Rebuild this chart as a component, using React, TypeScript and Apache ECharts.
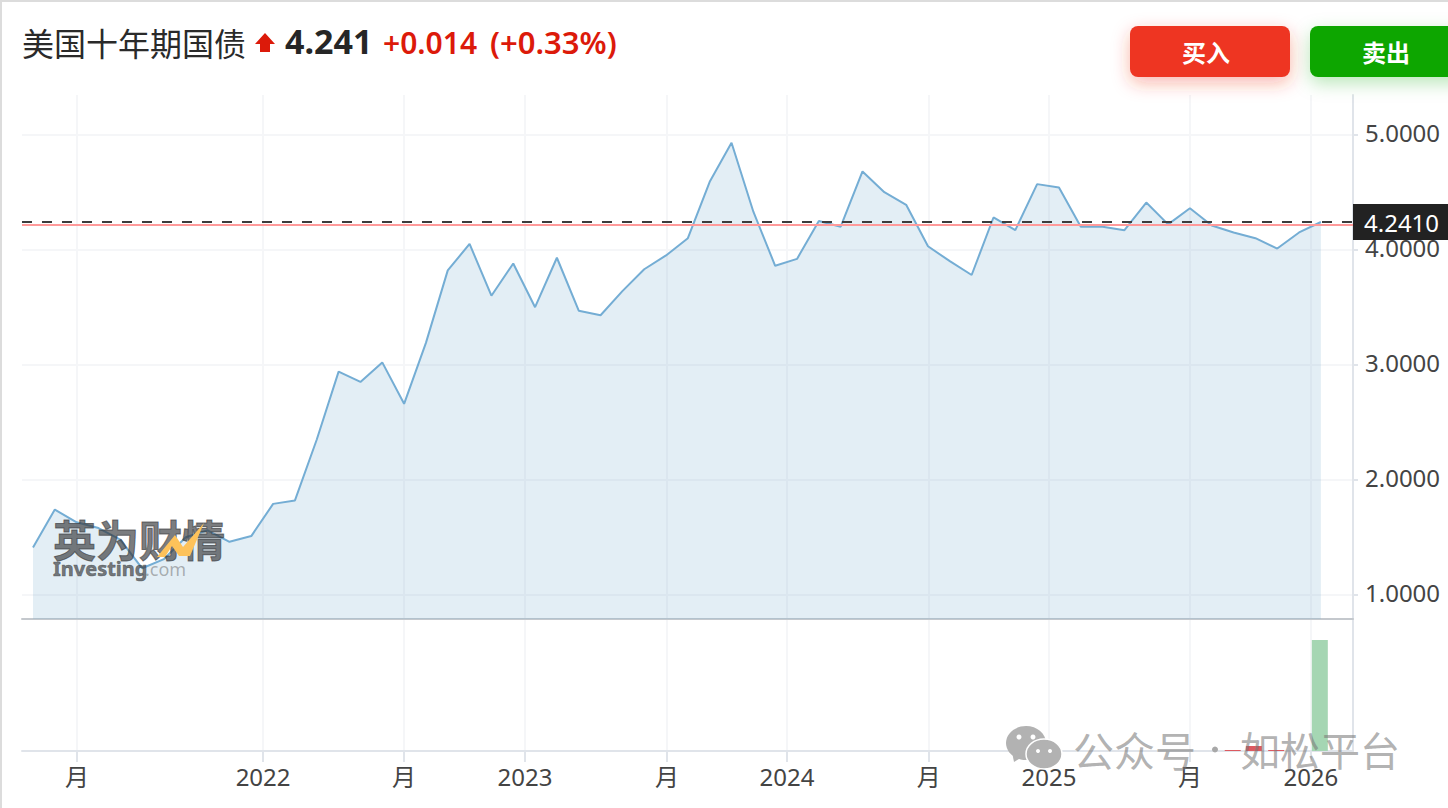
import React, { useEffect, useRef } from "react";
import * as echarts from "echarts";

const yields = [
  1.41, 1.74, 1.63, 1.58, 1.48, 1.23, 1.31, 1.5, 1.56, 1.46, 1.51, 1.79, 1.82, 2.35, 2.94, 2.85, 3.02, 2.66, 3.19, 3.82,
  4.05, 3.6, 3.88, 3.5, 3.93, 3.47, 3.43, 3.64, 3.83, 3.95, 4.1, 4.59, 4.93, 4.33, 3.86, 3.92, 4.25, 4.2, 4.68, 4.5,
  4.39, 4.03, 3.9, 3.78, 4.28, 4.17, 4.57, 4.54, 4.2, 4.2, 4.17, 4.41, 4.22, 4.36, 4.21, 4.15, 4.1, 4.01, 4.15, 4.241,
];
const volumeIndex = [54.96, 55.93, 56.95, 58.95];
const volumeValues = [1, 5, 1, 111];
const volumeUp = [false, false, false, true];
const xTickValues = [2.02, 10.54, 17.0, 22.54, 29.04, 34.54, 41.04, 46.54, 53.0, 58.54];
const xTickLabels = ["月", "2022", "月", "2023", "月", "2024", "月", "2025", "月", "2026"];
const yTickValues = [1, 2, 3, 4, 5];
const lastPrice = 4.241;
const lastPriceLine = 4.236;
const prevClose = 4.225;

const FONT = '"Noto Sans", "Noto Sans CJK SC", sans-serif';
const CJK = '"Noto Sans CJK SC", sans-serif';
const X_MIN = -0.504;
const X_MAX = 60.47;
const GRID_LINE = "#f5f6f8";
const AXIS_LINE = "#e0e4ea";

function label(v: number) {
  const i = xTickValues.indexOf(v);
  return i >= 0 ? xTickLabels[i] : "";
}

function text(x: number, y: number, t: string, size: number, fill: string, weight: any = 400, family = FONT, align = "left", z = 50, extra: any = {}) {
  return {
    type: "text",
    z,
    silent: true,
    style: { x, y, text: t, fill, font: `${weight} ${size}px ${family}`, textAlign: align, textVerticalAlign: "middle", ...extra },
  };
}

export default function App() {
  const ref = useRef<HTMLDivElement>(null);
  useEffect(() => {
    const chart = echarts.init(ref.current!, undefined, { renderer: "svg" });
    const wmGray = "rgba(55,57,60,0.66)";
    const wmLight = "rgba(120,120,120,0.58)";
    chart.setOption({
      animation: false,
      backgroundColor: "#ffffff",
      grid: [
        { left: 22, width: 1331, top: 95, height: 524 },
        { left: 22, width: 1331, top: 619, height: 132 },
      ],
      xAxis: [
        {
          type: "value",
          gridIndex: 0,
          min: X_MIN,
          max: X_MAX,
          axisLine: { show: true, onZero: false, lineStyle: { color: "#c4c8cd", width: 2 } },
          axisTick: { show: false, customValues: xTickValues },
          axisLabel: { show: false, customValues: xTickValues },
          splitLine: { show: true, lineStyle: { color: GRID_LINE, width: 2 } },
        },
        {
          type: "value",
          gridIndex: 1,
          min: X_MIN,
          max: X_MAX,
          axisLine: { show: true, onZero: false, lineStyle: { color: AXIS_LINE, width: 2 } },
          axisTick: { show: true, length: 11, customValues: xTickValues, lineStyle: { color: AXIS_LINE, width: 2 } },
          axisLabel: {
            show: true,
            customValues: xTickValues,
            formatter: (v: number) => label(v),
            color: "#444444",
            fontSize: 24,
            fontFamily: FONT,
            margin: 13,
          },
          splitLine: { show: true, lineStyle: { color: GRID_LINE, width: 2 } },
        },
      ],
      yAxis: [
        {
          type: "value",
          gridIndex: 0,
          position: "right",
          min: 0.789,
          max: 5.345,
          axisLine: { show: true, onZero: false, lineStyle: { color: AXIS_LINE, width: 2 } },
          axisTick: { show: true, length: 5, customValues: yTickValues, lineStyle: { color: AXIS_LINE, width: 2 } },
          axisLabel: {
            show: true,
            customValues: yTickValues,
            formatter: (v: number) => `{a|${v.toFixed(4)}}`,
            margin: 12,
            rich: {
              a: { color: "#444444", fontSize: 24, fontFamily: FONT, padding: [0, 0, 4, 0] },
            },
          },
          splitLine: { show: true, lineStyle: { color: GRID_LINE, width: 2 } },
        },
        {
          type: "value",
          gridIndex: 1,
          position: "right",
          min: 0,
          max: 132,
          axisLine: { show: true, onZero: false, lineStyle: { color: AXIS_LINE, width: 2 } },
          axisTick: { show: false },
          axisLabel: { show: false },
          splitLine: { show: false },
        },
      ],
      series: [
        {
          type: "line",
          xAxisIndex: 0,
          yAxisIndex: 0,
          data: yields.map((v, i) => [i, v]),
          symbol: "none",
          smooth: false,
          lineStyle: { color: "#74add4", width: 2 },
          areaStyle: { color: "rgba(115,170,205,0.2)", opacity: 1, origin: "start" },
          markLine: {
            silent: true,
            symbol: "none",
            animation: false,
            data: [
              {
                yAxis: prevClose,
                lineStyle: { color: "#ff9a9a", width: 2, type: "solid" },
                label: { show: false },
              },
              {
                yAxis: lastPriceLine,
                lineStyle: { color: "#3c3c3c", width: 2, type: [10, 10] },
                label: {
                  show: true,
                  position: "end",
                  distance: 0,
                  formatter: () => lastPrice.toFixed(4),
                  color: "#ffffff",
                  backgroundColor: "#222222",
                  fontSize: 24,
                  fontFamily: FONT,
                  padding: [5, 10, 4, 11],
                  lineHeight: 27,
                },
              },
            ],
          },
        },
        {
          type: "bar",
          xAxisIndex: 1,
          yAxisIndex: 1,
          barWidth: 16,
          data: volumeIndex.map((x, i) => ({
            value: [x, volumeValues[i]],
            itemStyle: { color: volumeUp[i] ? "#a5d6b3" : "#dc5a60" },
          })),
        },
      ],
      graphic: [
        { type: "rect", z: 60, silent: true, shape: { x: 0, y: 0, width: 1448, height: 2 }, style: { fill: "#dcdcdc" } },
        { type: "rect", z: 60, silent: true, shape: { x: 0, y: 0, width: 2, height: 808 }, style: { fill: "#dcdcdc" } },
        text(22, 42, "美国十年期国债", 32, "#2a2a2a", 400, CJK),
        {
          type: "polygon",
          z: 50,
          silent: true,
          shape: { points: [[265, 33], [275, 44], [270, 44], [270, 52], [260, 52], [260, 44], [255, 44]] },
          style: { fill: "#dc1a0a" },
        },
        text(285, 41, "4.241", 34, "#262626", 700),
        text(383, 42, "+0.014", 30, "#dc1a0a", 600),
        text(490, 42, "(+0.33%)", 31, "#dc1a0a", 600),
        {
          type: "rect",
          z: 50,
          silent: true,
          shape: { x: 1130, y: 26, width: 160, height: 51, r: 8 },
          style: { fill: "#ee3524", shadowBlur: 18, shadowOffsetY: 6, shadowColor: "rgba(238,53,36,0.35)" },
        },
        text(1206, 51, "买入", 24, "#ffffff", 700, CJK, "center"),
        {
          type: "rect",
          z: 50,
          silent: true,
          shape: { x: 1310, y: 26, width: 160, height: 51, r: 8 },
          style: { fill: "#0ca600", shadowBlur: 18, shadowOffsetY: 6, shadowColor: "rgba(12,166,0,0.28)" },
        },
        text(1386, 51, "卖出", 24, "#ffffff", 700, CJK, "center"),
        // Investing watermark
        text(53, 538, "英为财情", 43, wmGray, 700, CJK, "left", 70, { stroke: wmGray, lineWidth: 1 }),
        text(53, 568, "Investing", 20, wmGray, 700, FONT, "left", 70, { stroke: wmGray, lineWidth: 0.6 }),
        text(145, 569, ".com", 18, "rgba(90,90,90,0.45)", 400, FONT, "left", 70),
        {
          type: "polygon",
          z: 71,
          silent: true,
          shape: { points: [[157, 557], [175, 535], [183, 547], [204, 523], [190, 556], [179, 556], [172, 546], [165, 557]] },
          style: { fill: "#fdc25a" },
        },
        // WeChat watermark
        { type: "ellipse", z: 70, silent: true, shape: { cx: 1026, cy: 743, rx: 20, ry: 17 }, style: { fill: "#b2b2b2" } },
        { type: "polygon", z: 70, silent: true, shape: { points: [[1012, 752], [1014, 762], [1024, 756]] }, style: { fill: "#b2b2b2" } },
        { type: "circle", z: 70, silent: true, shape: { cx: 1019, cy: 737, r: 2.5 }, style: { fill: "#ffffff" } },
        { type: "circle", z: 70, silent: true, shape: { cx: 1033, cy: 737, r: 2.5 }, style: { fill: "#ffffff" } },
        { type: "ellipse", z: 71, silent: true, shape: { cx: 1044, cy: 754, rx: 18, ry: 15 }, style: { fill: "#b2b2b2", stroke: "#ffffff", lineWidth: 1.5 } },
        { type: "circle", z: 72, silent: true, shape: { cx: 1038, cy: 751, r: 2 }, style: { fill: "#ffffff" } },
        { type: "circle", z: 72, silent: true, shape: { cx: 1050, cy: 751, r: 2 }, style: { fill: "#ffffff" } },
        text(1073, 749, "公众号", 41, wmLight, 400, CJK, "left", 70),
        { type: "circle", z: 70, silent: true, shape: { cx: 1215, cy: 749.5, r: 3 }, style: { fill: "#a8a8a8" } },
        text(1240, 749, "如松平台", 40, wmLight, 400, CJK, "left", 70),
      ],
    });
    return () => chart.dispose();
  }, []);
  return <div ref={ref} style={{ position: "fixed", left: 0, top: 0, width: 1448, height: 808 }} />;
}
